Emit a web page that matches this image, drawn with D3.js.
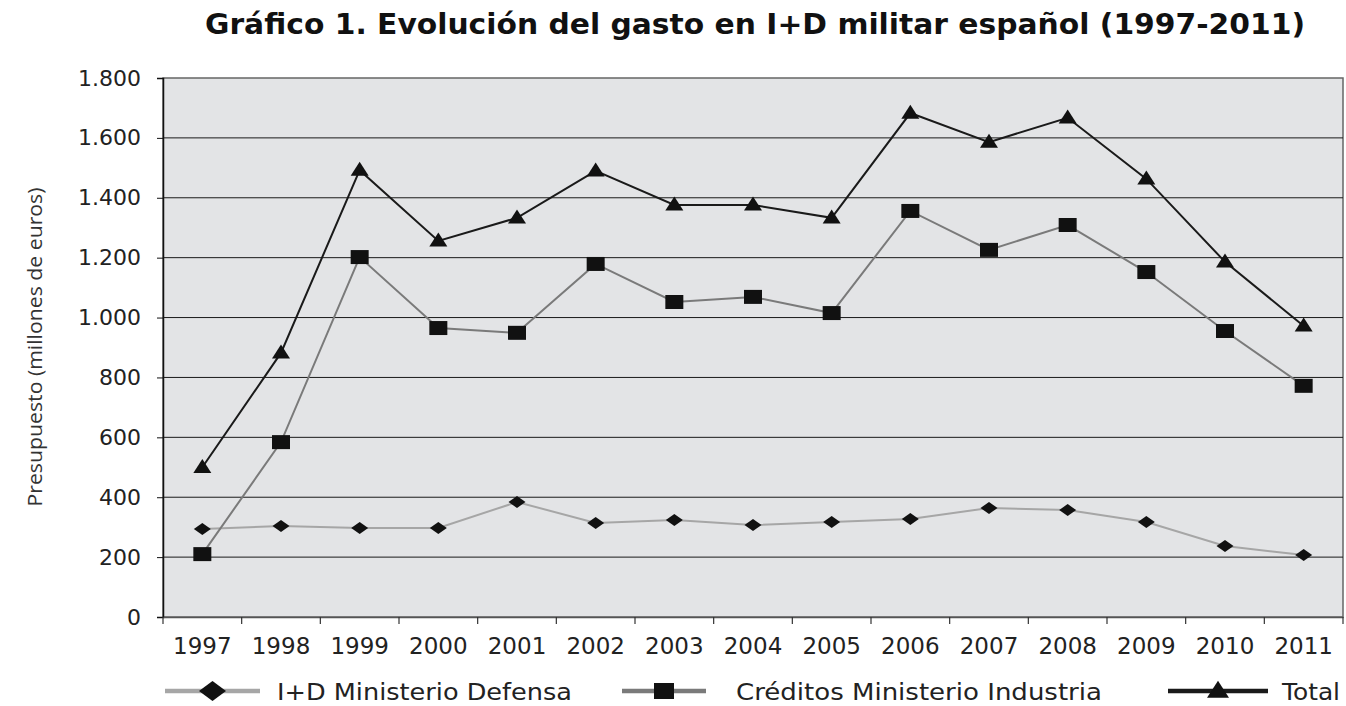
<!DOCTYPE html>
<html>
<head>
<meta charset="utf-8">
<script src="https://cdn.jsdelivr.net/npm/d3@7"></script>
<style>
  body { margin: 0; background: #fff; }
  text { font-family: "DejaVu Sans", sans-serif; fill: #222; }
</style>
</head>
<body>
<svg id="chart" width="1346" height="706"></svg>
<script>
// data (millones de euros)
var years = ["1997","1998","1999","2000","2001","2002","2003","2004","2005","2006","2007","2008","2009","2010","2011"];
var defensa = [294, 304, 297, 297, 384, 314, 324, 307, 317, 327, 364, 357, 317, 237, 207];
var industria = [210, 584, 1202, 965, 949, 1179, 1052, 1069, 1015, 1356, 1226, 1309, 1152, 955, 772];
var total = [500, 882, 1492, 1256, 1333, 1490, 1376, 1376, 1333, 1683, 1586, 1667, 1463, 1186, 972];
var yTicks = [0, 200, 400, 600, 800, 1000, 1200, 1400, 1600, 1800];

var series = [
  {name: "I+D Ministerio Defensa", values: defensa, color: "#a6a6a6", marker: "diamond"},
  {name: "Créditos Ministerio Industria", values: industria, color: "#7a7a7a", marker: "square"},
  {name: "Total", values: total, color: "#1a1a1a", marker: "triangle"}
];

var svg = d3.select("#chart");
var m = {left: 163, right: 1343, top: 78, bottom: 617};

var x = d3.scaleBand().domain(years).range([m.left, m.right]);
var y = d3.scaleLinear().domain([0, 1800]).range([m.bottom, m.top]);

var fmt = function (d) { return d3.format(",")(d).replace(/,/g, "."); };

// title
svg.append("text")
    .attr("x", 755).attr("y", 34)
    .attr("text-anchor", "middle")
    .attr("textLength", 1100).attr("lengthAdjust", "spacingAndGlyphs")
    .style("font-weight", "bold").style("font-size", "28px")
    .style("fill", "#111")
    .text("Gráfico 1. Evolución del gasto en I+D militar español (1997-2011)");

// plot background
svg.append("rect")
    .attr("x", m.left).attr("y", m.top)
    .attr("width", m.right - m.left).attr("height", m.bottom - m.top)
    .attr("fill", "#e3e4e6").attr("stroke", "#666").attr("stroke-width", 1.5);

// grid lines
svg.append("g").selectAll("line")
    .data(yTicks.filter(function (d) { return d > 0 && d < 1800; }))
    .join("line")
    .attr("x1", m.left).attr("x2", m.right)
    .attr("y1", function (d) { return y(d); }).attr("y2", function (d) { return y(d); })
    .attr("stroke", "#1a1a1a").attr("stroke-width", 1);

// y axis
var yAxis = svg.append("g")
    .attr("transform", "translate(" + m.left + ",0)")
    .call(d3.axisLeft(y).tickValues(yTicks).tickFormat(fmt).tickSize(6).tickPadding(16));
yAxis.select(".domain").attr("stroke", "#111").attr("stroke-width", 1.5);
yAxis.selectAll(".tick line").attr("stroke", "#111");
yAxis.selectAll("text").style("font-size", "22px").style("font-family", "'DejaVu Sans', sans-serif").attr("fill", "#222");

// x axis, ticks on band boundaries
var xAxis = svg.append("g")
    .attr("transform", "translate(0," + m.bottom + ")")
    .call(d3.axisBottom(x).tickSize(0).tickPadding(21));
xAxis.select(".domain").attr("stroke", "#555").attr("stroke-width", 1.5);
xAxis.selectAll("text").style("font-size", "23px").style("font-family", "'DejaVu Sans', sans-serif").attr("fill", "#222");
svg.append("g").selectAll("line")
    .data(years.concat(["end"]))
    .join("line")
    .attr("x1", function (d, i) { return m.left + i * x.step(); })
    .attr("x2", function (d, i) { return m.left + i * x.step(); })
    .attr("y1", m.bottom).attr("y2", m.bottom + 7)
    .attr("stroke", "#333").attr("stroke-width", 1.2);

// y title
svg.append("text")
    .attr("transform", "translate(42,347) rotate(-90)")
    .attr("text-anchor", "middle")
    .attr("textLength", 319).attr("lengthAdjust", "spacingAndGlyphs")
    .style("font-family", "'Open Sans', sans-serif")
    .style("font-size", "20px").style("fill", "#333")
    .text("Presupuesto (millones de euros)");

// marker shapes, w x h centred on 0,0
function markerPath(shape, w, h) {
  var p = d3.path();
  if (shape === "diamond") {
    p.moveTo(0, -h / 2); p.lineTo(w / 2, 0); p.lineTo(0, h / 2); p.lineTo(-w / 2, 0);
  } else if (shape === "square") {
    p.rect(-w / 2, -h / 2, w, h);
  } else {
    p.moveTo(0, -h * 0.6); p.lineTo(w / 2, h * 0.4); p.lineTo(-w / 2, h * 0.4);
  }
  p.closePath();
  return p.toString();
}
var plotSize = {diamond: [17, 12], square: [18, 14], triangle: [18, 14]};
var legendSize = {diamond: [27, 20], square: [20, 16], triangle: [22, 17]};

var line = d3.line()
    .x(function (d, i) { return x(years[i]) + x.bandwidth() / 2; })
    .y(function (d) { return y(d); });

series.forEach(function (s) {
  var g = svg.append("g");
  g.append("path")
      .datum(s.values)
      .attr("d", line)
      .attr("fill", "none").attr("stroke", s.color).attr("stroke-width", 2);
  g.selectAll("path.mk")
      .data(s.values)
      .join("path").attr("class", "mk")
      .attr("d", markerPath(s.marker, plotSize[s.marker][0], plotSize[s.marker][1]))
      .attr("transform", function (d, i) {
        return "translate(" + (x(years[i]) + x.bandwidth() / 2) + "," + y(d) + ")";
      })
      .attr("fill", "#111");
});

// legend
var legendX = [165, 622, 1168];
var legendW = [95, 84, 100];
var legendTextX = [277, 736, 1282];
var legendTextW = [295, 366, 58];
var ly = 691;
series.forEach(function (s, i) {
  var g = svg.append("g");
  g.append("line")
      .attr("x1", legendX[i]).attr("x2", legendX[i] + legendW[i])
      .attr("y1", ly).attr("y2", ly)
      .attr("stroke", s.color).attr("stroke-width", 4.5);
  g.append("path")
      .attr("d", markerPath(s.marker, legendSize[s.marker][0], legendSize[s.marker][1]))
      .attr("transform", "translate(" + (legendX[i] + legendW[i] / 2) + "," + ly + ")")
      .attr("fill", "#111");
  g.append("text")
      .attr("x", legendTextX[i]).attr("y", 700)
      .attr("textLength", legendTextW[i]).attr("lengthAdjust", "spacingAndGlyphs")
      .style("font-size", "23px")
      .text(s.name);
});
</script>
</body>
</html>
